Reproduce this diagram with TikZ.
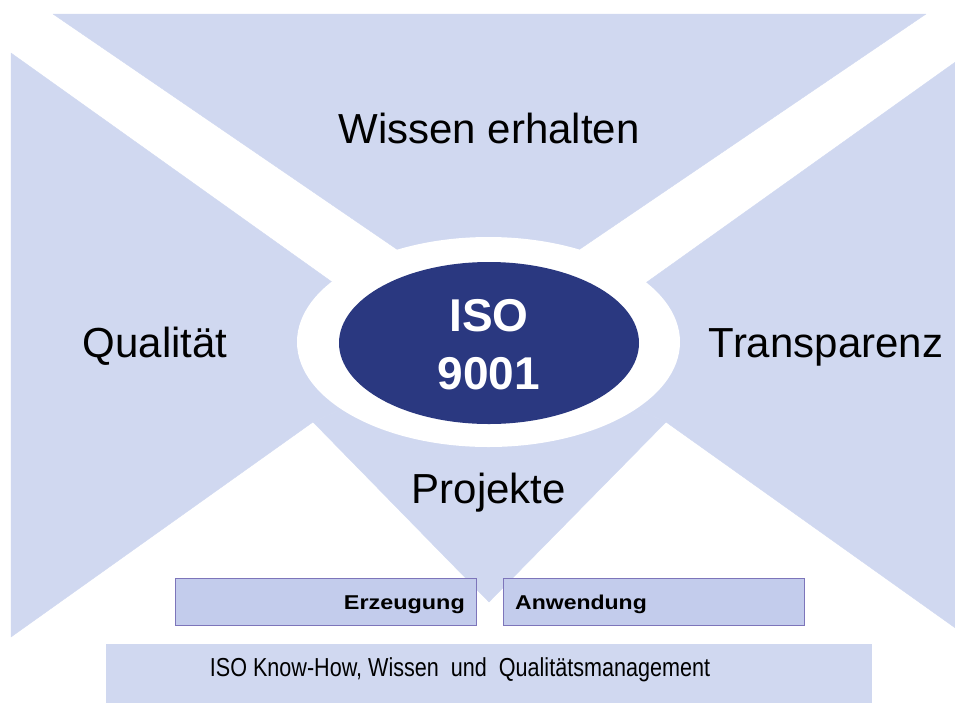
\documentclass[tikz,border=0pt]{standalone}
\usepackage{fontspec}
\setmainfont{Liberation Sans}
\usetikzlibrary{shapes.geometric}
\definecolor{lightfill}{RGB}{208,216,240}
\definecolor{boxfill}{RGB}{195,204,236}
\definecolor{boxline}{RGB}{125,117,186}
\definecolor{navy}{RGB}{42,56,128}
\begin{document}
\begin{tikzpicture}[x=1pt,y=-1pt,
  region/.style={fill=lightfill, draw=lightfill, line width=0.4pt, line join=round},
  bigtext/.style={anchor=base, inner sep=0pt, font=\fontsize{42}{50}\selectfont},
  isotext/.style={anchor=base, inner sep=0pt, text=white, font=\fontsize{46}{56}\selectfont\bfseries},
  boxnode/.style={fill=boxfill, draw=boxline, line width=0.9pt, anchor=north west, inner sep=0pt},
  boxtext/.style={inner sep=0pt, font=\fontsize{20}{24}\selectfont\bfseries}]
\useasboundingbox (0,0) rectangle (955,702);
\clip (0,0) rectangle (955,702);
% light regions
\filldraw[region] (53,14) -- (926,14) -- (580,249) -- (489,342) -- (398,250) -- cycle;
\filldraw[region] (11,53) -- (332,282) -- (489,342) -- (313,422) -- (11,637) -- cycle;
\filldraw[region] (968,53) -- (647,282) -- (489,342) -- (666,422) -- (968,637) -- cycle;
\filldraw[region] (313,422) -- (489,342) -- (666,422) -- (489,602) -- cycle;
% central ellipses
\node[ellipse, fill=white, minimum width=383pt, minimum height=210pt, inner sep=0pt] (ring) at (488.5,342) {};
\node[ellipse, fill=navy, minimum width=300pt, minimum height=162pt, inner sep=0pt] (iso) at (489,343) {};
\node[isotext] (isoA) at (489,331) {ISO};
\node[isotext] (isoB) at (489,389) {9001};
% region labels
\node[bigtext] (wissen) at (489,143) {Wissen erhalten};
\node[bigtext] (qual) at (155,357) {Qualität};
\node[bigtext] (transp) at (826,357) {Transparenz};
\node[bigtext] (proj) at (489,503) {Projekte};
% boxes
\node[boxnode, minimum width=301pt, minimum height=47pt] (erzbox) at (175,578) {};
\node[boxnode, minimum width=301pt, minimum height=47pt] (anwbox) at (502.5,578) {};
\node[boxtext, anchor=base east] (erz) at (465,609) {\scalebox{1.17}[1]{Erzeugung}};
\node[boxtext, anchor=base west] (anw) at (515,609) {\scalebox{1.15}[1]{Anwendung}};
% bottom band
\node[fill=lightfill, minimum width=766pt, minimum height=60pt, anchor=north west, inner sep=0pt] (band) at (106,644) {};
\node[anchor=base, inner sep=0pt, font=\fontsize{26}{30}\selectfont] (bandtext) at (460,676) {\scalebox{0.83}[1]{ISO Know-How, Wissen \ und \ Qualitätsmanagement}};
\end{tikzpicture}
\end{document}
